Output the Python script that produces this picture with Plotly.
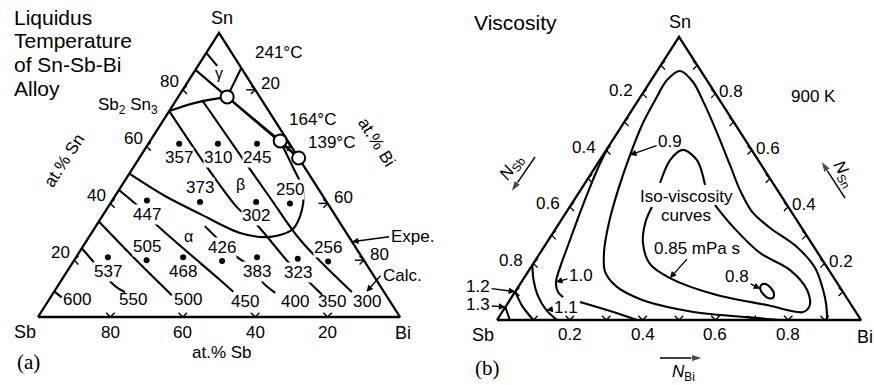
import math
import plotly.graph_objects as go

W, H = 874, 385
SANS = "Liberation Sans, Arial, Helvetica, sans-serif"
SERIF = "Liberation Serif, Times New Roman, serif"
INK = "black"

# ---------------------------------------------------------------
# (a) Liquidus temperature of Sn-Sb-Bi alloys, compositions in at.%
# ---------------------------------------------------------------
a_ticks = [20, 40, 60, 80]
a_right_labels = [20, 60, 80]

# measured liquidus points: at.% Sn, at.% Bi, temperature in deg C
a_pt_sn = [61, 61, 61, 40.5, 40.5, 40, 41, 21, 20, 21, 19.7, 21, 20.5, 19.5]
a_pt_bi = [8.5, 19.2, 30, 24.5, 40, 49.6, 9.6, 8.8, 20, 29.6, 41, 50, 61.5, 70.4]
a_pt_temp = [357, 310, 245, 373, 302, 250, 447, 537, 505, 468, 426, 383, 323, 256]
a_pt_above = [0, 0, 0, 1, 0, 1, 0, 0, 1, 0, 1, 0, 0, 1]

# calculated isotherms (deg C), traced as at.% Sn / at.% Bi
a_iso_temp = [600, 550, 500, 450, 400, 350, 300]
a_iso_sn = [
    [9.0, 6.9],
    [24.2, 19.7, 10.9, 8.7],
    [33.6, 20.5, 7.7],
    [44.7, 39.4, 32.4, 13.0, 8.9],
    [32.0, 20.8, 17.3, 12.0, 8.5],
    [72.5, 59.9, 52.8, 38.7, 32.4, 19.4, 13.0, 7.8],
    [76.4, 56.0, 41.9, 27.1, 8.8],
]
a_iso_bi = [
    [0.0, 3.1],
    [0.0, 5.3, 15.8, 19.7],
    [0.0, 16.5, 33.1],
    [0.0, 7.6, 16.6, 43.8, 49.5],
    [30.1, 44.9, 50.8, 56.2, 61.3],
    [0.0, 12.9, 20.3, 35.6, 44.3, 59.4, 67.8, 74.6],
    [7.1, 28.4, 43.2, 58.9, 82.3],
]
a_iso_lab_sn = [6.0, 6.0, 6.0, 5.4, 5.3, 5.3, 5.3]
a_iso_lab_bi = [7.7, 23.2, 38.5, 54.5, 68.4, 78.5, 88.2]

# invariant points
a_inv_sn = [77.5, 62.0, 56.0]
a_inv_bi = [13.5, 35.9, 44.0]
a_inv_label = ["241°C", "164°C", "139°C"]

# boundaries between primary phase fields
a_bnd_sn = [
    [72.5, 75.4, 77.5],
    [77.5, 87.7],
    [87.0, 77.5],
    [77.5, 62.0],
    [77.5, 56.0],
    [62.0, 56.0],
    [93.0, 88.4],
    [50.5, 42.6, 36.3, 29.6, 28.2, 31.0, 37.7, 44.7, 52.8, 62.0],
]
a_bnd_bi = [
    [0.0, 5.7, 13.5],
    [13.5, 12.3],
    [0.0, 13.5],
    [13.5, 35.9],
    [13.5, 44.0],
    [35.9, 44.0],
    [0.0, 5.3],
    [0.0, 13.8, 26.6, 41.0, 50.0, 54.9, 54.05, 50.85, 44.0, 35.9],
]
a_sb2sn3 = (72.5, 0.0)
a_fields = ["α", "β", "γ"]
a_field_sn = [28.2, 46.5, 85.9]
a_field_bi = [27.4, 32.6, 7.0]
a_expe = (26.5, 73.5)
a_calc = (8.9, 86.3)

# ---------------------------------------------------------------
# (b) Iso-viscosity curves at 900 K, mole fractions
# ---------------------------------------------------------------
b_ticks = [0.1, 0.2, 0.3, 0.4, 0.5, 0.6, 0.7, 0.8, 0.9]
b_labels = [0.2, 0.4, 0.6, 0.8]

b_090_sn = [0.0, 0.01, 0.021, 0.039, 0.07, 0.117, 0.17, 0.24, 0.346, 0.459, 0.583, 0.689,
            0.777, 0.848, 0.88, 0.841, 0.76, 0.661, 0.548, 0.459, 0.382, 0.325, 0.258,
            0.184, 0.106, 0.053, 0.0]
b_090_bi = [0.777, 0.68, 0.575, 0.475, 0.366, 0.271, 0.212, 0.174, 0.135, 0.103, 0.074, 0.054,
            0.046, 0.043, 0.063, 0.118, 0.191, 0.274, 0.366, 0.438, 0.51, 0.588, 0.695,
            0.782, 0.843, 0.878, 0.907]
b_085_sn = [0.484, 0.565, 0.601, 0.565, 0.477, None,
            0.406, 0.329, 0.237, 0.177, 0.106, 0.053, 0.028, 0.053, 0.088, 0.148, 0.198,
            0.272, 0.346, 0.399]
b_085_bi = [0.206, 0.193, 0.21, 0.267, 0.333, None,
            0.396, 0.484, 0.604, 0.716, 0.799, 0.833, 0.827, 0.715, 0.56, 0.401, 0.321,
            0.265, 0.235, 0.226]
b_080_sn = [0.124, 0.127, 0.113, 0.092, 0.078, 0.078, 0.092, 0.11, 0.124]
b_080_bi = [0.664, 0.675, 0.696, 0.715, 0.719, 0.706, 0.685, 0.668, 0.664]
b_100_sn = [0.61, 0.53, 0.442, 0.353, 0.265, 0.187, 0.134, 0.099, 0.081, None, 0.064, 0.032, 0.0]
b_100_bi = [0.0, 0.01, 0.026, 0.044, 0.063, 0.08, 0.095, 0.118, 0.141, None, 0.196, 0.295, 0.385]
b_110_sn = [0.194, 0.141, 0.085, 0.035, 0.0]
b_110_bi = [0.0, 0.03, 0.07, 0.118, 0.165]
b_120_sn = [0.10, 0.05, 0.0]
b_120_bi = [0.0, 0.044, 0.10]
b_130_sn = [0.046, 0.0]
b_130_bi = [0.0, 0.035]

# ---------------------------------------------------------------
# geometry: each triangle lives on its own hidden cartesian axes
# ---------------------------------------------------------------
PANEL_A = dict(x0=38, x1=400, y0=317, y1=33, total=100.0, dom=(0.0, 0.5))
PANEL_B = dict(x0=497, x1=861, y0=320, y1=37, total=1.0, dom=(0.5, 1.0))


def scales(g):
    kx = (g["x1"] - g["x0"]) / g["total"]
    ky = (g["y0"] - g["y1"]) / g["total"]
    xr = [(W * g["dom"][0] - g["x0"]) / kx, (W * g["dom"][1] - g["x0"]) / kx]
    yr = [(g["y0"] - H) / ky, g["y0"] / ky]
    return kx, ky, xr, yr


KXA, KYA, XRA, YRA = scales(PANEL_A)
KXB, KYB, XRB, YRB = scales(PANEL_B)


def tri(sn, bi):
    """Sn / Bi content -> plane position (Sb at origin, Bi to the right, Sn at apex)."""
    xs = [None if s is None else b + s / 2.0 for s, b in zip(sn, bi)]
    ys = [s for s in sn]
    return xs, ys


def join(groups):
    out = []
    for g in groups:
        out += list(g) + [None]
    return out


def chevrons(xs, ys, kx, ky, out_dir, arm=6.0, spread=45.0, tail=0.0):
    ux, uy = out_dir
    n = math.hypot(ux, uy)
    ux, uy = ux / n, uy / n
    px, py = [], []
    for x, y in zip(xs, ys):
        ends = []
        for s in (1, -1):
            a = math.radians(s * spread)
            dx = -(ux * math.cos(a) - uy * math.sin(a))
            dy = -(ux * math.sin(a) + uy * math.cos(a))
            ends.append((x + arm * dx / kx, y - arm * dy / ky))
        px += [ends[0][0], x, ends[1][0], None]
        py += [ends[0][1], y, ends[1][1], None]
        if tail:
            px += [x, x - tail * ux / kx, None]
            py += [y, y + tail * uy / ky, None]
    return px, py


fig = go.Figure()


def lines(x, y, axes, width=2.1, shape="spline"):
    fig.add_trace(go.Scatter(
        x=x, y=y, mode="lines", xaxis=axes[0], yaxis=axes[1],
        line=dict(color=INK, width=width, shape=shape, smoothing=0.9),
        hoverinfo="skip", showlegend=False, connectgaps=False))


A = ("x", "y")
B = ("x2", "y2")

# ---- panel (a) ----
ex, ey = tri([0, 0, 100, 0], [0, 100, 0, 0])
lines(ex, ey, A, width=2.3, shape="linear")
ix, iy = tri(join(a_iso_sn), join(a_iso_bi))
lines(ix, iy, A)
bx, by = tri(join(a_bnd_sn), join(a_bnd_bi))
lines(bx, by, A)

tl = tri(a_ticks, [0] * 4)
cx, cy = chevrons(*tl, KXA, KYA, (-1, 0))
lines(cx, cy, A, width=1.4, shape="linear")
tb = tri([0] * 4, [100 - t for t in a_ticks])
cx, cy = chevrons(*tb, KXA, KYA, (0, 1))
lines(cx, cy, A, width=1.4, shape="linear")
tr = tri(a_ticks, [100 - t for t in a_ticks])
cx, cy = chevrons(*tr, KXA, KYA, (1, 0), tail=9)
lines(cx, cy, A, width=1.4, shape="linear")

px_, py_ = tri(a_pt_sn, a_pt_bi)
fig.add_trace(go.Scatter(x=px_, y=py_, mode="markers", xaxis="x", yaxis="y",
                         marker=dict(color=INK, size=6), hoverinfo="skip", showlegend=False))
vx, vy = tri(a_inv_sn, a_inv_bi)
fig.add_trace(go.Scatter(x=vx, y=vy, mode="markers", xaxis="x", yaxis="y",
                         marker=dict(color="white", size=13, line=dict(color=INK, width=2)),
                         hoverinfo="skip", showlegend=False))

# ---- panel (b) ----
ex, ey = tri([0, 0, 1, 0], [0, 1, 0, 0])
lines(ex, ey, B, width=2.3, shape="linear")
for sn, bi in [(b_090_sn, b_090_bi), (b_085_sn, b_085_bi), (b_080_sn, b_080_bi),
               (b_100_sn, b_100_bi), (b_110_sn, b_110_bi), (b_120_sn, b_120_bi),
               (b_130_sn, b_130_bi)]:
    x, y = tri(sn, bi)
    lines(x, y, B)

nt = len(b_ticks)
cx, cy = chevrons(*tri([1 - t for t in b_ticks], [0] * nt), KXB, KYB, (-1, 0))
lines(cx, cy, B, width=1.3, shape="linear")
cx, cy = chevrons(*tri(b_ticks, [1 - t for t in b_ticks]), KXB, KYB, (1, 0))
lines(cx, cy, B, width=1.3, shape="linear")
cx, cy = chevrons(*tri([0] * nt, b_ticks), KXB, KYB, (0, 1))
lines(cx, cy, B, width=1.3, shape="linear")

# composition-direction arrows beside panel (b), placed in screen pixels
for tail, head in [((535, 157), (511, 192)), ((845, 198), (821, 161)), ((660, 358), (703, 358))]:
    xs = [(p[0] - PANEL_B["x0"]) / KXB for p in (tail, head)]
    ys = [(PANEL_B["y0"] - p[1]) / KYB for p in (tail, head)]
    fig.add_trace(go.Scatter(
        x=xs, y=ys, mode="lines+markers", xaxis="x2", yaxis="y2",
        line=dict(color=INK, width=1.4),
        marker=dict(symbol="arrow", size=[0, 12], angleref="previous", color=INK),
        hoverinfo="skip", showlegend=False))

# ---------------------------------------------------------------
# text
# ---------------------------------------------------------------
ann = []


def text(t, x, y, ref, size=17, family=SANS, **kw):
    d = dict(text=t, x=x, y=y, xref=ref[0], yref=ref[1], showarrow=False,
             xanchor="center", yanchor="middle",
             font=dict(family=family, size=size, color=INK))
    d.update(kw)
    ann.append(d)


def pointer(t, x, y, ref, ax, ay, size=17, **kw):
    d = dict(text=t, x=x, y=y, xref=ref[0], yref=ref[1], ax=ax, ay=ay, showarrow=True,
             arrowhead=2, arrowsize=1, arrowwidth=1.3, arrowcolor=INK, standoff=0,
             font=dict(family=SANS, size=size, color=INK))
    d.update(kw)
    ann.append(d)


P = ("paper", "paper")


def pp(px, py):
    return px / W, 1 - py / H


# panel (a) titles
for i, line in enumerate(["Liquidus", "Temperature", "of Sn-Sb-Bi", "Alloy"]):
    x, y = pp(12, 17 + 23.7 * i)
    text(line, x, y, P, size=21, xanchor="left")
text("(a)", *pp(28, 362), P, size=21, family=SERIF)

# corners
for name, sn, bi, xs, ys in [("Sb", 0, 0, -13, -15), ("Bi", 0, 100, 3, -16), ("Sn", 100, 0, 3, 15)]:
    x, y = tri([sn], [bi])
    text(name, x[0], y[0], A, size=18, xshift=xs, yshift=ys)

for t in a_ticks:
    x, y = tri([t], [0])
    text(str(t), x[0], y[0], A, xanchor="right", xshift=-2, yshift=8)
    x, y = tri([0], [100 - t])
    text(str(t), x[0], y[0], A, yshift=-15)
for t in a_right_labels:
    x, y = tri([100 - t], [t])
    text(str(t), x[0], y[0], A, xanchor="left", xshift=4, yshift=6)

text("at.% Sn", *pp(64, 160), P, size=17, textangle=-57)
text("at.% Bi", *pp(377, 142), P, size=17, textangle=58)
text("at.% Sb", *pp(222, 352), P, size=17)

# measured temperatures
for sn, bi, t, up in zip(a_pt_sn, a_pt_bi, a_pt_temp, a_pt_above):
    x, y = tri([sn], [bi])
    text(str(t), x[0], y[0], A, yshift=14 if up else -14, bgcolor="white", borderpad=0)

# isotherm values
x, y = tri(a_iso_lab_sn, a_iso_lab_bi)
for xi, yi, t in zip(x, y, a_iso_temp):
    text(str(t), xi, yi, A)

# invariant points
for (sn, bi, lab, xs, ys) in zip(a_inv_sn, a_inv_bi, a_inv_label, [51, 32, 33], [44, 21, 15]):
    x, y = tri([sn], [bi])
    text(lab, x[0], y[0], A, xshift=xs, yshift=ys)

x, y = tri([a_sb2sn3[0]], [a_sb2sn3[1]])
text("Sb<sub>2</sub> Sn<sub>3</sub>", x[0], y[0], A, xanchor="right", xshift=-9, yshift=5)

x, y = tri(a_field_sn, a_field_bi)
for xi, yi, f in zip(x, y, a_fields):
    text(f, xi, yi, A, size=16)

x, y = tri([a_expe[0]], [a_expe[1]])
pointer("Expe.", x[0], y[0], A, ax=37, ay=-5, xanchor="left")
x, y = tri([a_calc[0]], [a_calc[1]])
pointer("Calc.", x[0], y[0], A, ax=14, ay=-16, xanchor="left")

# panel (b)
text("Viscosity", *pp(472, 22), P, size=21, xanchor="left")
text("(b)", *pp(487, 368), P, size=21, family=SERIF)
text("900 K", *pp(813, 97), P, size=17)

for name, sn, bi, xs, ys in [("Sb", 0, 0, -14, -15), ("Bi", 0, 1, 4, -17), ("Sn", 1, 0, 1, 15)]:
    x, y = tri([sn], [bi])
    text(name, x[0], y[0], B, size=18, xshift=xs, yshift=ys)

for t in b_labels:
    lab = f"{t:.1f}"
    x, y = tri([1 - t], [0])
    text(lab, x[0], y[0], B, xanchor="right", xshift=-8, yshift=3)
    x, y = tri([t], [1 - t])
    text(lab, x[0], y[0], B, xanchor="left", xshift=2, yshift=2)
    x, y = tri([0], [t])
    text(lab, x[0], y[0], B, yshift=-14)

text("Iso-viscosity", *pp(686, 197), P, size=17)
text("curves", *pp(686, 215), P, size=17)

# curve values with leaders
for lab, sn_arr, bi_arr, k, ax, ay in [
    ("0.9", b_090_sn, b_090_bi, 10, 40, -14),
    ("0.85 mPa s", b_085_sn, b_085_bi, 15, 27, -30),
    ("0.8", b_080_sn, b_080_bi, 7, -23, -12),
    ("1.0", b_100_sn, b_100_bi, 6, 25, -7),
    ("1.1", b_110_sn, b_110_bi, 3, 20, -3),
    ("1.2", b_120_sn, b_120_bi, 0, -37, -5),
    ("1.3", b_130_sn, b_130_bi, 0, -27, -2),
]:
    x, y = tri([sn_arr[k]], [bi_arr[k]])
    pointer(lab, x[0], y[0], B, ax=ax, ay=ay)

text("<i>N</i><sub>Sb</sub>", *pp(512, 168), P, size=17, textangle=-55)
text("<i>N</i><sub>Sn</sub>", *pp(843, 174), P, size=17, textangle=60)
text("<i>N</i><sub>Bi</sub>", *pp(683, 373), P, size=17)

fig.update_layout(
    width=W, height=H, autosize=False,
    margin=dict(l=0, r=0, t=0, b=0),
    paper_bgcolor="white", plot_bgcolor="white",
    showlegend=False,
    annotations=ann,
    xaxis=dict(domain=list(PANEL_A["dom"]), range=XRA, visible=False, fixedrange=True),
    yaxis=dict(domain=[0, 1], range=YRA, visible=False, fixedrange=True, anchor="x"),
    xaxis2=dict(domain=list(PANEL_B["dom"]), range=XRB, visible=False, fixedrange=True, anchor="y2"),
    yaxis2=dict(domain=[0, 1], range=YRB, visible=False, fixedrange=True, anchor="x2"),
)

fig.write_html("out.html")
